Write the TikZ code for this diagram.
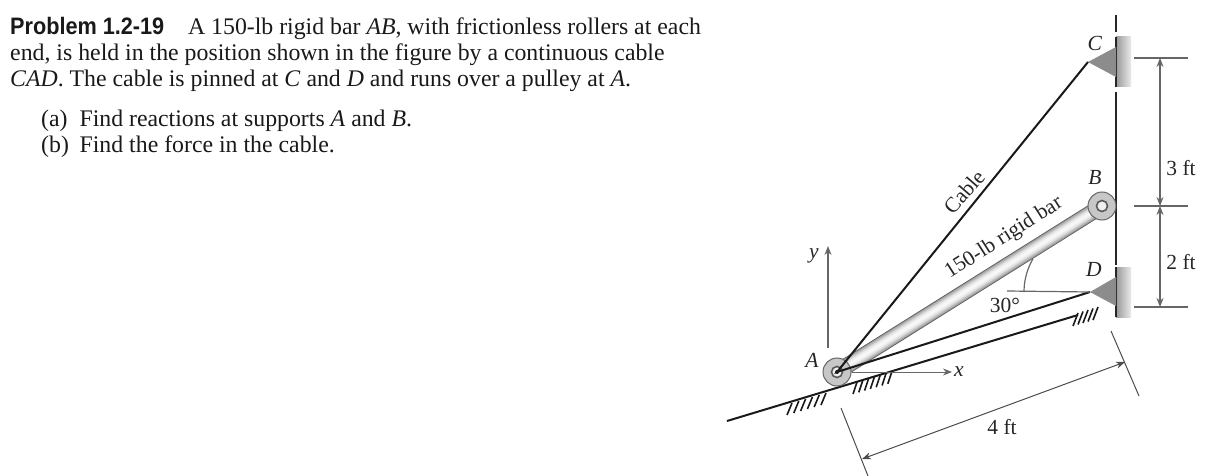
\documentclass[tikz,border=0pt]{standalone}
\usepackage{fontspec}
\setmainfont{Liberation Serif}
\newfontfamily\headfont[FakeStretch=0.91]{Liberation Sans}
\usetikzlibrary{arrows.meta}
\tikzset{
	bodytext/.style={anchor=base west,inner sep=0pt,font=\fontsize{23.8}{28}\selectfont,text=black!90},
	figlabel/.style={inner sep=0pt,font=\fontsize{21.5}{26}\selectfont,text=black!85},
	pulley/.style={circle,draw=black!60,line width=1pt,fill=black!22,inner sep=0pt,minimum size=#1},
	hub/.style={circle,draw=black!65,line width=1.6pt,fill=black!6,inner sep=0pt,minimum size=#1},
	dimline/.style={color=black!60,line width=1.2pt},
	hatchline/.style={color=black!90,line width=1.6pt},
	wallline/.style={color=black!85,line width=2.6pt},
	cableline/.style={color=black!90,line width=2pt},
	bracket/.style={fill=black!45}
}
\begin{document}
\begin{tikzpicture}[>={Stealth[length=9pt,width=7pt]},x=1pt,y=-1pt]
	\useasboundingbox (0,0) rectangle (1226,476);
	% problem text
	\node[bodytext] (line1) at (10,35) {{\headfont\bfseries Problem 1.2-19}\hspace{1em}A 150-lb rigid bar \textit{AB}, with frictionless rollers at each};
	\node[bodytext] (line2) at (10,61) {end, is held in the position shown in the figure by a continuous cable};
	\node[bodytext] (line3) at (10,87) {\textit{CAD}. The cable is pinned at \textit{C} and \textit{D} and runs over a pulley at \textit{A}.};
	\node[bodytext] (parta) at (41,127) {(a)\hspace{0.5em}Find reactions at supports \textit{A} and \textit{B}.};
	\node[bodytext] (partb) at (41,153) {(b)\hspace{0.45em}Find the force in the cable.};
	% points
	\coordinate (A) at (837,372);
	\coordinate (B) at (1102,206);
	\coordinate (C) at (1088,62);
	\coordinate (D) at (1090,292);
	% wall and brackets
	\shade[left color=black!40,right color=black!8] (1116,37) rectangle (1131,87);
	\shade[left color=black!40,right color=black!8] (1116,267) rectangle (1131,317);
	\draw[wallline] (1116,15) -- (1116,32);
	\draw[wallline] (1116,37) -- (1116,87);
	\draw[wallline] (1116,92) -- (1116,265);
	\draw[wallline] (1116,267) -- (1116,317);
	\fill[bracket] (C) -- (1116,47) -- (1116,77) -- cycle;
	\fill[bracket] (D) -- (1116,277) -- (1116,306) -- cycle;
	% incline
	\draw[cableline] (727,421) -- (1078,315);
	\foreach \i in {0,...,5}
		\draw[hatchline] ({787+\i*6.8},{415-\i*2}) -- ++(5,-12);
	\foreach \i in {0,...,6}
		\draw[hatchline] ({853+\i*5.8},{394-\i*1.7}) -- ++(4,-12);
	\foreach \i in {0,...,4}
		\draw[hatchline] ({1073+\i*5},{326-\i*1.5}) -- ++(5,-13);
	% axes
	\draw[->,dimline] (828,348) -- (828,246);
	\draw[->,dimline,line width=0.9pt] (852,372) -- (952,372);
	\node[figlabel] (ylab) at (814,256) {\textit{y}};
	\node[figlabel] (xlab) at (959,372) {\textit{x}};
	% bar
	\foreach \w/\g in {16/65,14.5/40,12.5/28,9.5/16,6.5/8,3/3}
		\draw[color=black!\g,line width=\w pt] (A) -- (B);
	\node[pulley=28pt] (pulA) at (A) {};
	\node[hub=11pt] (hubA) at (A) {};
	\node[pulley=28pt] (pulB) at (B) {};
	\node[hub=11pt] (hubB) at (B) {};
	% cable
	\draw[cableline] (C) -- (A) -- (D);
	\fill[black!90] (A) circle (2pt);
	% angle
	\draw[dimline] (D) -- (1007,291);
	\draw[dimline] (D) ++(180:66) arc (180:210:66);
	\node[figlabel] (anglab) at (1005,305) {30°};
	% dimensions
	\coordinate (dimC) at (1160,58);
	\coordinate (dimB) at (1160,206);
	\coordinate (dimD) at (1160,307);
	\draw[dimline] (1134,58) -- (1188,58);
	\draw[dimline] (1134,206) -- (1188,206);
	\draw[dimline] (1134,307) -- (1188,307);
	\draw[<->,dimline] (dimC) -- (dimB);
	\draw[<->,dimline] (dimB) -- (dimD);
	\node[figlabel] (threeft) at (1181,168) {3 ft};
	\node[figlabel] (twoft) at (1181,262) {2 ft};
	\coordinate (dimL) at (862,459);
	\coordinate (dimR) at (1125,362);
	\draw[color=black!70,line width=1pt] (841,408) -- (868,476);
	\draw[color=black!70,line width=1pt] (1111,331) -- (1139,396);
	\draw[<->,color=black!70,line width=1pt] (dimL) -- (dimR);
	\node[figlabel] (fourft) at (1002,427) {4 ft};
	% labels
	\node[figlabel] (labA) at (812,360) {\textit{A}};
	\node[figlabel] (labB) at (1095,177) {\textit{B}};
	\node[figlabel] (labC) at (1095,43) {\textit{C}};
	\node[figlabel] (labD) at (1094,269) {\textit{D}};
	\node[figlabel,rotate=49] (labcable) at (964,192) {Cable};
	\node[figlabel,rotate=32.5] (labbar) at (1004,238) {150-lb rigid bar};
\end{tikzpicture}
\end{document}
